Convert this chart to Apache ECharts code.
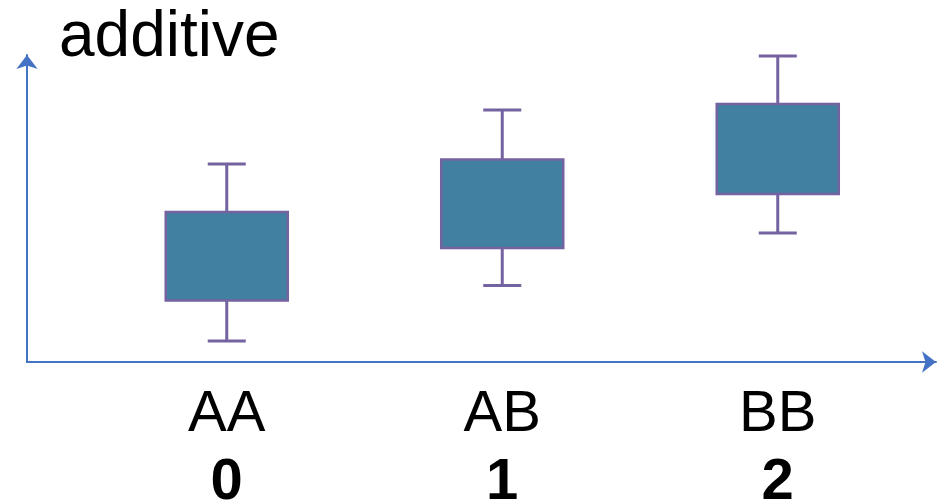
<!DOCTYPE html>
<html>
<head>
<meta charset="utf-8">
<script src="https://cdn.jsdelivr.net/npm/echarts@6/dist/echarts.min.js"></script>
<style>html,body{margin:0;padding:0;background:#fff}#c{width:939px;height:504px}</style>
</head>
<body>
<div id="c"></div>
<script>
const titleText = 'additive';
const genotypes = ['AA', 'AB', 'BB'];
const codes = ['0', '1', '2'];
const whiskerLow = [0.7, 2.55, 4.3];
const q1 = [2.05, 3.8, 5.6];
const q3 = [5.0, 6.75, 8.6];
const whiskerHigh = [6.6, 8.4, 10.2];

const chart = echarts.init(document.getElementById('c'), null, {renderer: 'canvas'});
const boxData = genotypes.map((g, i) => [i, whiskerLow[i], q1[i], q3[i], whiskerHigh[i]]);
const axisColor = '#4472C4';
const boxFill = '#4280A2';
const boxLine = '#7562A0';
const font = '"Liberation Sans", Arial, sans-serif';

chart.setOption({
  animation: false,
  title: {
    text: titleText, left: 54, top: 1,
    textStyle: {fontFamily: font, fontSize: 64, fontWeight: 'normal', color: '#000'}
  },
  grid: [
    {left: 89, right: 23.5, top: 32, bottom: 142, outerBoundsMode: 'none', containLabel: false},
    {left: 27, right: 3, top: 55, bottom: 142, outerBoundsMode: 'none', containLabel: false}
  ],
  xAxis: [
    {
      type: 'category', gridIndex: 0, data: genotypes, boundaryGap: true,
      axisLine: {show: false}, axisTick: {show: false},
      axisLabel: {
        margin: 19, interval: 0,
        formatter: (v, i) => '{a|' + v + '}\n{b|' + codes[i] + '}',
        rich: {
          a: {fontFamily: font, fontSize: 58, lineHeight: 68, color: '#000'},
          b: {fontFamily: font, fontSize: 58, lineHeight: 68, fontWeight: 'bold', color: '#000'}
        }
      }
    },
    {
      type: 'value', gridIndex: 1, min: 0, max: 1,
      axisLine: {show: true, onZero: false, symbol: ['none', 'arrow'], symbolSize: [16, 14], lineStyle: {color: axisColor, width: 2}},
      axisTick: {show: false}, axisLabel: {show: false}, splitLine: {show: false}
    }
  ],
  yAxis: [
    {
      type: 'value', gridIndex: 0, min: 0, max: 11,
      axisLine: {show: false}, axisTick: {show: false}, axisLabel: {show: false}, splitLine: {show: false}
    },
    {
      type: 'value', gridIndex: 1, min: 0, max: 1,
      axisLine: {show: true, onZero: false, symbol: ['none', 'arrow'], symbolSize: [16, 14], lineStyle: {color: axisColor, width: 2}},
      axisTick: {show: false}, axisLabel: {show: false}, splitLine: {show: false}
    }
  ],
  series: [{
    type: 'custom', xAxisIndex: 0, yAxisIndex: 0, clip: false,
    data: boxData,
    renderItem: function (params, api) {
      const x = api.value(0);
      const pLow = api.coord([x, api.value(1)]);
      const pQ1 = api.coord([x, api.value(2)]);
      const pQ3 = api.coord([x, api.value(3)]);
      const pHigh = api.coord([x, api.value(4)]);
      const band = api.size([1, 0])[0];
      const bw = band * 0.443;
      const cw = band * 0.138;
      const cx = pQ1[0];
      const ls = {stroke: boxLine, lineWidth: 3};
      return {
        type: 'group',
        children: [
          {type: 'line', shape: {x1: cx, y1: pQ3[1], x2: cx, y2: pHigh[1]}, style: ls},
          {type: 'line', shape: {x1: cx, y1: pQ1[1], x2: cx, y2: pLow[1]}, style: ls},
          {type: 'line', shape: {x1: cx - cw / 2, y1: pHigh[1], x2: cx + cw / 2, y2: pHigh[1]}, style: ls},
          {type: 'line', shape: {x1: cx - cw / 2, y1: pLow[1], x2: cx + cw / 2, y2: pLow[1]}, style: ls},
          {type: 'rect', shape: {x: cx - bw / 2, y: pQ3[1], width: bw, height: pQ1[1] - pQ3[1]},
           style: {fill: boxFill, stroke: boxLine, lineWidth: 2.5}}
        ]
      };
    }
  }]
});
</script>
</body>
</html>
